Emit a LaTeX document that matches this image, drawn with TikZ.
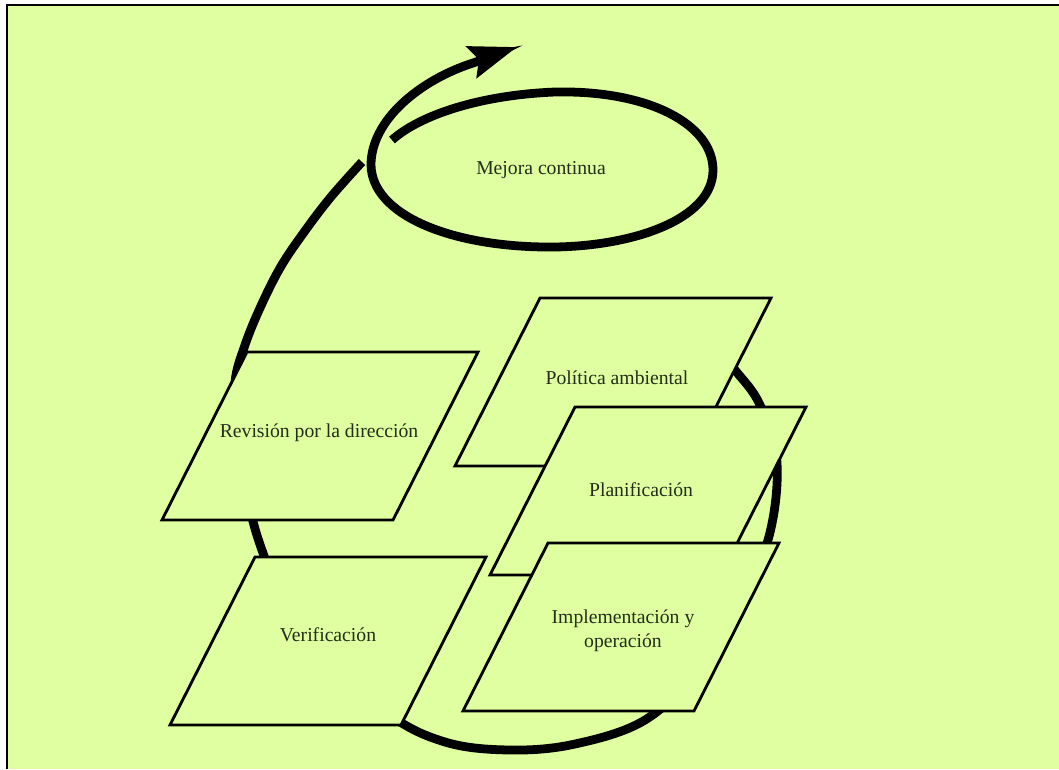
\documentclass[tikz,border=0pt]{standalone}
\usepackage{fontspec}
\setmainfont{Liberation Serif}
\usetikzlibrary{arrows.meta}
\definecolor{paper}{RGB}{223,255,160}
\definecolor{ink}{RGB}{35,45,25}

% one slanted plate, given its top left corner
\newcommand{\plate}[2]{\draw[plate] (#1,#2) -- ++(231,0) -- ++(-85,168) -- ++(-231,0) -- cycle;}

\begin{document}
\begin{tikzpicture}[x=0.02cm,y=-0.02cm,
    plate/.style={draw=black,line width=1.6pt,fill=paper,line join=miter},
    platetext/.style={text=ink,font=\fontsize{11.2}{13.6}\selectfont,align=center},
    loop/.style={line width=5pt}]
  \useasboundingbox (0,0) rectangle (1059,769);
  \fill[white] (0,0) rectangle (1059,769);
  \fill[paper] (7,5) rectangle (1059,769);
  \draw[line width=1.2pt] (7,769) -- (7,5) -- (1059,5);

  % the big cycle, behind the plates
  \draw[loop] plot[smooth,tension=0.6] coordinates {(705,335) (735,370) (760,405)
    (777,463) (768,540) (735,610) (700,668) (645,720) (575,744) (510,750) (445,742)
    (385,712) (300,640) (263,553) (247,495) (237,430) (235,382) (245,345)
    (260,308) (280,268) (302,235) (330,198) (362,162)};

  % spiral round the continual improvement
  \draw[loop,-{Stealth[length=0.95cm,width=0.65cm,inset=0.15cm]}] (392,140)
    .. controls (420,115) and (480,95) .. (555,92)
    .. controls (650,90) and (713,125) .. (713,170)
    .. controls (713,220) and (630,248) .. (545,247)
    .. controls (450,246) and (372,215) .. (371,165)
    .. controls (371,120) and (420,80) .. (473,63)
    .. controls (490,57) and (505,51) .. (517,47);
  \node[platetext] (mejora) at (541,170) {Mejora continua};

  \plate{247}{352}
  \plate{255}{557}
  \plate{540}{298}
  \plate{575}{407}
  \plate{548}{543}

  \node[platetext] (revision) at (319,433) {Revisión por la dirección};
  \node[platetext] (verif) at (328,635) {Verificación};
  \node[platetext] (politica) at (617,378) {Política ambiental};
  \node[platetext] (planif) at (641,490) {Planificación};
  \node[platetext] (implem) at (623,631) {Implementación y\\operación};
\end{tikzpicture}
\end{document}
